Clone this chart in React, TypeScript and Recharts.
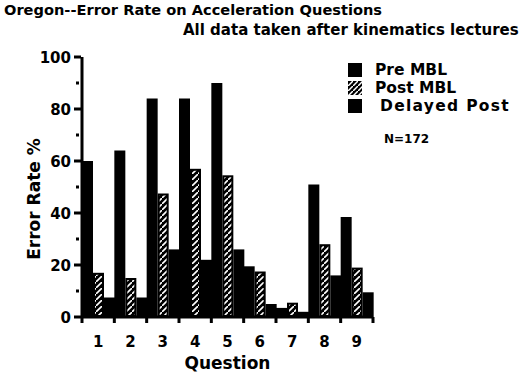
import { Bar, BarChart, XAxis, YAxis } from "recharts";

const questions = ["1", "2", "3", "4", "5", "6", "7", "8", "9"];
const preMbl = [60, 64, 84, 84, 90, 19.5, 3.5, 51, 38.5];
const postMbl = [17, 15, 47.5, 57, 54.5, 17.5, 5.5, 28, 19];
const delayedPost = [7.5, 7.5, 26, 22, 26, 5, 2, 16, 9.5];
const seriesNames = ["Pre MBL", "Post MBL", "Delayed Post"];
const yTicks = [0, 10, 20, 30, 40, 50, 60, 70, 80, 90, 100];

const data = questions.map((q, i) => ({
  q,
  pre: preMbl[i],
  post: postMbl[i],
  delayed: delayedPost[i],
}));

const FONT = '"DejaVu Sans", "Liberation Sans", Arial, sans-serif';
const PLOT_LEFT = 82;
const PLOT_RIGHT = 373;

// hatched bar: black outline with white diagonal dashes
const HatchBar = (props: any) => {
  const { x, y, width, height } = props;
  if (!height || height <= 0) return null;
  const inset = 2;
  return (
    <g>
      <rect x={x} y={y} width={width} height={height} fill="#000" />
      {height > inset * 2 && (
        <rect
          x={x + inset}
          y={y + inset}
          width={Math.max(width - inset * 2, 0)}
          height={height - inset * 2}
          fill="url(#hatch)"
        />
      )}
    </g>
  );
};

const XTick = (props: any) => {
  const { x, y, payload, index } = props;
  const step = (PLOT_RIGHT - PLOT_LEFT) / questions.length;
  return (
    <g>
      <line x1={x - step / 2} x2={x - step / 2} y1={y - 8} y2={y - 2} stroke="#000" strokeWidth={3} />
      {index === questions.length - 1 && (
        <line x1={x + step / 2} x2={x + step / 2} y1={y - 8} y2={y - 2} stroke="#000" strokeWidth={3} />
      )}
      <text x={x} y={y + 22} textAnchor="middle" fontFamily={FONT} fontWeight="bold" fontSize={15} fill="#000">
        {payload.value}
      </text>
    </g>
  );
};

const YTick = (props: any) => {
  const { x, y, payload } = props;
  const major = payload.value % 20 === 0;
  if (!major) {
    return <rect x={x + 2} y={y - 1.5} width={3} height={3} fill="#000" />;
  }
  return (
    <g>
      <line x1={x} x2={x + 7} y1={y} y2={y} stroke="#000" strokeWidth={3} />
      <text x={x - 3} y={y + 5.5} textAnchor="end" fontFamily={FONT} fontWeight="bold" fontSize={15} fill="#000">
        {payload.value}
      </text>
    </g>
  );
};

const YLabel = () => (
  <text
    x={0}
    y={0}
    transform="translate(40, 199) rotate(-90)"
    textAnchor="middle"
    fontFamily={FONT}
    fontWeight="bold"
    fontSize={17}
    fill="#000"
  >
    Error Rate %
  </text>
);

export default function App() {
  return (
    <div style={{ position: "absolute", left: 0, top: 0, width: 523, height: 372, background: "#fff", fontFamily: FONT }}>
      <div style={{ position: "absolute", left: 4, top: 1, fontSize: 14.6, fontWeight: "bold", whiteSpace: "nowrap" }}>
        Oregon--Error Rate on Acceleration Questions
      </div>
      <div style={{ position: "absolute", left: 183, top: 21, fontSize: 15, fontWeight: "bold", whiteSpace: "nowrap" }}>
        All data taken after kinematics lectures
      </div>

      <BarChart
        width={523}
        height={372}
        data={data}
        margin={{ top: 57, right: 523 - PLOT_RIGHT, left: 12, bottom: 5 }}
        barCategoryGap={0}
        barGap={0}
      >
        <defs>
          <pattern id="hatch" patternUnits="userSpaceOnUse" width={6} height={6}>
            <rect width={6} height={6} fill="#000" />
            <line x1={0} y1={6} x2={6} y2={0} stroke="#fff" strokeWidth={1.6} />
          </pattern>
        </defs>
        <XAxis
          dataKey="q"
          height={50}
          tickLine={false}
          axisLine={{ stroke: "#000", strokeWidth: 3 }}
          tick={<XTick />}
          interval={0}
          label={{
            value: "Question",
            position: "insideBottom",
            offset: -2,
            fontFamily: FONT,
            fontWeight: "bold",
            fontSize: 17,
            fill: "#000",
          }}
        />
        <YAxis
          width={70}
          domain={[0, 100]}
          ticks={yTicks}
          interval={0}
          tickLine={false}
          axisLine={{ stroke: "#000", strokeWidth: 3 }}
          tick={<YTick />}
          label={<YLabel />}
        />
        <Bar dataKey="pre" name={seriesNames[0]} fill="#000" isAnimationActive={false} />
        <Bar dataKey="post" name={seriesNames[1]} shape={<HatchBar />} isAnimationActive={false} />
        <Bar dataKey="delayed" name={seriesNames[2]} fill="#000" isAnimationActive={false} />
      </BarChart>

      <div style={{ position: "absolute", left: 348, top: 61, fontWeight: "bold", fontSize: 15.5 }}>
        {seriesNames.map((name, i) => (
          <div key={name} style={{ display: "flex", alignItems: "center", height: 18 }}>
            <svg width={14} height={14} style={{ marginRight: i === 2 ? 18 : 13 }}>
              <rect width={14} height={14} fill={i === 1 ? "url(#hatchLegend)" : "#000"} />
              {i === 1 && (
                <defs>
                  <pattern id="hatchLegend" patternUnits="userSpaceOnUse" width={5} height={5}>
                    <rect width={5} height={5} fill="#000" />
                    <line x1={0} y1={5} x2={5} y2={0} stroke="#fff" strokeWidth={1.5} />
                  </pattern>
                </defs>
              )}
            </svg>
            <span style={{ whiteSpace: "nowrap", letterSpacing: i === 2 ? 1.3 : 0 }}>{name}</span>
          </div>
        ))}
        <div style={{ marginTop: 17, marginLeft: 36, fontSize: 12 }}>N=172</div>
      </div>
    </div>
  );
}
